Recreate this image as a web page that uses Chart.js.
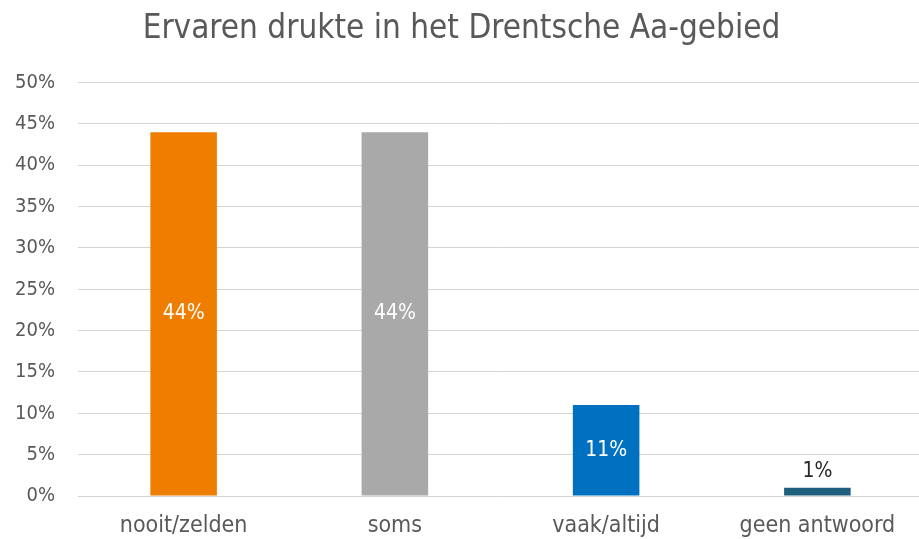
<!DOCTYPE html>
<html>
<head>
<meta charset="utf-8">
<script src="https://cdn.jsdelivr.net/npm/chart.js@4/dist/chart.umd.min.js"></script>
<style>
  html, body { margin: 0; padding: 0; background: #fff; overflow: hidden; }
  #wrap { width: 923px; height: 539px; }
</style>
</head>
<body>
<div id="wrap"><canvas id="myChart"></canvas></div>
<script>
// gegevens
var categories = ["nooit/zelden", "soms", "vaak/altijd", "geen antwoord"];
var values = [44, 44, 11, 1];
var barColors = ["#EF7D00", "#A9A9A9", "#0070C0", "#1F5F7E"];
var labelColors = ["#ffffff", "#ffffff", "#ffffff", "#262626"];
var titleText = "Ervaren drukte in het Drentsche Aa-gebied";

var fontFam = "'Liberation Sans Narrow', 'DejaVu Sans Condensed', sans-serif";

// labels in of boven de staven
var valueLabels = {
  id: "valueLabels",
  afterDatasetsDraw: function (chart) {
    var ctx = chart.ctx;
    var meta = chart.getDatasetMeta(0);
    ctx.save();
    ctx.font = "21px " + fontFam;
    ctx.textAlign = "center";
    ctx.textBaseline = "middle";
    meta.data.forEach(function (bar, i) {
      ctx.fillStyle = labelColors[i];
      var y;
      if (values[i] < 5) {
        y = bar.y - 16;
      } else {
        y = (bar.y + bar.base) / 2;
      }
      ctx.fillText(values[i] + "%", bar.x, y);
    });
    ctx.restore();
  }
};

var ctx = document.getElementById("myChart");
var myChart = new Chart(ctx, {
  type: "bar",
  data: {
    labels: categories,
    datasets: [{
      data: values,
      backgroundColor: barColors,
      barPercentage: 0.63,
      categoryPercentage: 0.5
    }]
  },
  options: {
    responsive: true,
    maintainAspectRatio: false,
    animation: false,
    layout: { padding: { left: 0, right: 0, top: 0, bottom: 0 } },
    plugins: {
      legend: { display: false },
      tooltip: { enabled: false },
      title: {
        display: true,
        text: titleText,
        color: "#595959",
        font: { family: fontFam, size: 33, weight: "normal" },
        padding: { top: 10, bottom: 33 }
      }
    },
    scales: {
      x: {
        grid: { display: false },
        border: { display: false },
        ticks: { color: "#595959", font: { family: fontFam, size: 23 }, padding: 8 },
        afterFit: function (scale) { scale.height = 43; }
      },
      y: {
        min: 0,
        max: 50,
        ticks: {
          stepSize: 5,
          color: "#595959",
          font: { family: fontFam, size: 20 },
          padding: 23,
          callback: function (v) { return v + "%"; }
        },
        grid: { color: "#D4D4D4", lineWidth: 1, drawTicks: false },
        border: { display: false },
        afterFit: function (scale) { scale.width = 78; }
      }
    }
  },
  plugins: [valueLabels]
});
</script>
</body>
</html>
